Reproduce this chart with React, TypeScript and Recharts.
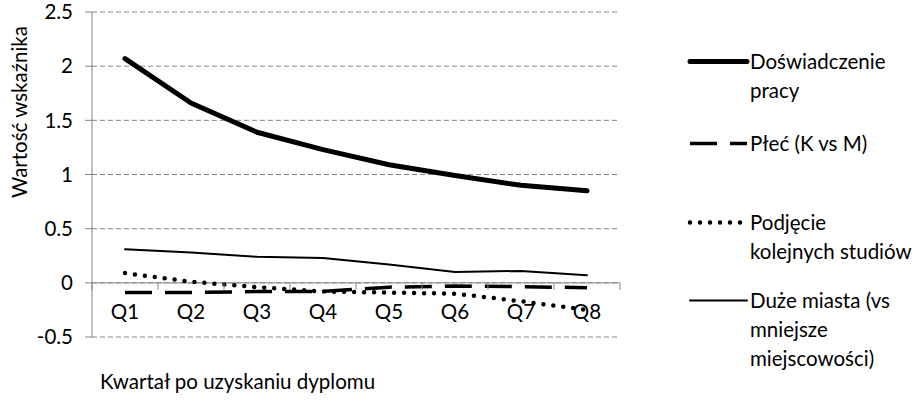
import { LineChart, Line, XAxis, YAxis, CartesianGrid, ReferenceLine, Legend, Label } from 'recharts';

const QUARTERS = ['Q1', 'Q2', 'Q3', 'Q4', 'Q5', 'Q6', 'Q7', 'Q8'];
const SERIES_NAMES = [
  'Doświadczenie\npracy',
  'Płeć (K vs M)',
  'Podjęcie\nkolejnych studiów',
  'Duże miasta (vs\nmniejsze\nmiejscowości)',
];
const EXPERIENCE = [2.07, 1.66, 1.39, 1.23, 1.09, 0.99, 0.9, 0.85];
const GENDER = [-0.09, -0.09, -0.08, -0.08, -0.04, -0.03, -0.035, -0.045];
const FURTHER_STUDY = [0.09, 0.01, -0.04, -0.08, -0.09, -0.1, -0.17, -0.25];
const BIG_CITIES = [0.31, 0.28, 0.24, 0.23, 0.17, 0.1, 0.11, 0.07];
const Y_TICKS = [-0.5, 0, 0.5, 1, 1.5, 2, 2.5];

const FONT = 'Lato, "Open Sans", sans-serif';
const FS = 20.5;
const AXIS_GRAY = '#868686';

const W = 919;
const H = 413;
const PLOT_TOP = 12;
const PLOT_BOTTOM = 337;
const PLOT_LEFT = 92;
const PLOT_RIGHT = 620;
const LEGEND_LEFT = 670;
const X_AXIS_H = 60;
const BAND = (PLOT_RIGHT - PLOT_LEFT) / QUARTERS.length;
const Y_MIN = Y_TICKS[0];
const Y_MAX = Y_TICKS[Y_TICKS.length - 1];
const ZERO_Y = PLOT_TOP + ((PLOT_BOTTOM - PLOT_TOP) * Y_MAX) / (Y_MAX - Y_MIN);

const data = QUARTERS.map((q, i) => ({
  q,
  exp: EXPERIENCE[i],
  gender: GENDER[i],
  study: FURTHER_STUDY[i],
  city: BIG_CITIES[i],
}));

const STYLES = [
  { key: 'exp', width: 5, dash: undefined, cap: 'round' },
  { key: 'gender', width: 3.5, dash: '27 13', cap: 'butt' },
  { key: 'study', width: 4.5, dash: '0 10', cap: 'round' },
  { key: 'city', width: 2, dash: undefined, cap: 'round' },
];

// line sample y position of each legend entry
const LEGEND_TOPS = [61, 143, 222, 300];

function QuarterTick(props: any) {
  const { x, payload, index } = props;
  const last = index === QUARTERS.length - 1;
  return (
    <g>
      <line x1={x - BAND / 2} x2={x - BAND / 2} y1={ZERO_Y} y2={ZERO_Y + 7} stroke={AXIS_GRAY} />
      {last && <line x1={x + BAND / 2} x2={x + BAND / 2} y1={ZERO_Y} y2={ZERO_Y + 7} stroke={AXIS_GRAY} />}
      <text x={x} y={ZERO_Y + 28} textAnchor="middle" dominantBaseline="central" fontSize={FS} fontFamily={FONT} fill="#000">
        {payload.value}
      </text>
    </g>
  );
}

function LegendBox() {
  return (
    <div style={{ position: 'relative', width: W - LEGEND_LEFT, height: 380, fontFamily: FONT, fontSize: FS, color: '#000' }}>
      {STYLES.map((s, i) => (
        <div key={s.key} style={{ position: 'absolute', left: 0, top: LEGEND_TOPS[i] - 14.5 }}>
          <svg width={80} height={29} style={{ position: 'absolute', left: 0, top: 0 }}>
            <line
              x1={20}
              x2={77}
              y1={14.5}
              y2={14.5}
              stroke="#000"
              strokeWidth={s.width}
              strokeDasharray={s.dash}
              strokeLinecap={s.cap as any}
            />
          </svg>
          <div style={{ position: 'absolute', left: 80, top: 0, whiteSpace: 'pre', lineHeight: '29px' }}>
            {SERIES_NAMES[i]}
          </div>
        </div>
      ))}
    </div>
  );
}

export default function App() {
  return (
    <div style={{ position: 'absolute', left: 0, top: 0, background: '#fff' }}>
      <LineChart
        width={W}
        height={H}
        data={data}
        margin={{ top: PLOT_TOP, right: W - PLOT_RIGHT - (W - LEGEND_LEFT), bottom: H - PLOT_BOTTOM - X_AXIS_H, left: 0 }}
      >
        <CartesianGrid vertical={false} stroke={AXIS_GRAY} strokeDasharray="5 3" />
        <XAxis
          dataKey="q"
          height={X_AXIS_H}
          axisLine={false}
          tickLine={false}
          interval={0}
          padding={{ left: BAND / 2, right: BAND / 2 }}
          tick={<QuarterTick />}
        >
          <Label
            content={() => (
              <text x={PLOT_LEFT + 8} y={381} dominantBaseline="central" fontSize={FS} fontFamily={FONT} fill="#000">
                Kwartał po uzyskaniu dyplomu
              </text>
            )}
          />
        </XAxis>
        <YAxis
          width={PLOT_LEFT}
          domain={[Y_MIN, Y_MAX]}
          ticks={Y_TICKS}
          interval={0}
          stroke={AXIS_GRAY}
          tickSize={7}
          tickMargin={12}
          tick={{ fill: '#000', fontSize: FS, fontFamily: FONT }}
        >
          <Label
            content={() => (
              <text
                x={19}
                y={112}
                textAnchor="middle"
                dominantBaseline="central"
                transform="rotate(-90 19 112)"
                fontSize={FS}
                fontFamily={FONT}
                fill="#000"
              >
                Wartość wskaźnika
              </text>
            )}
          />
        </YAxis>
        <ReferenceLine y={0} stroke={AXIS_GRAY} strokeWidth={1} />
        <Legend
          layout="vertical"
          align="right"
          verticalAlign="top"
          wrapperStyle={{ left: LEGEND_LEFT, top: 0, width: W - LEGEND_LEFT }}
          content={() => <LegendBox />}
        />
        {STYLES.map((s, i) => (
          <Line
            key={s.key}
            dataKey={s.key}
            name={SERIES_NAMES[i]}
            type="linear"
            stroke="#000"
            strokeWidth={s.width}
            strokeDasharray={s.dash}
            strokeLinecap={s.cap as any}
            strokeLinejoin="round"
            dot={false}
            activeDot={false}
            isAnimationActive={false}
          />
        ))}
      </LineChart>
    </div>
  );
}
